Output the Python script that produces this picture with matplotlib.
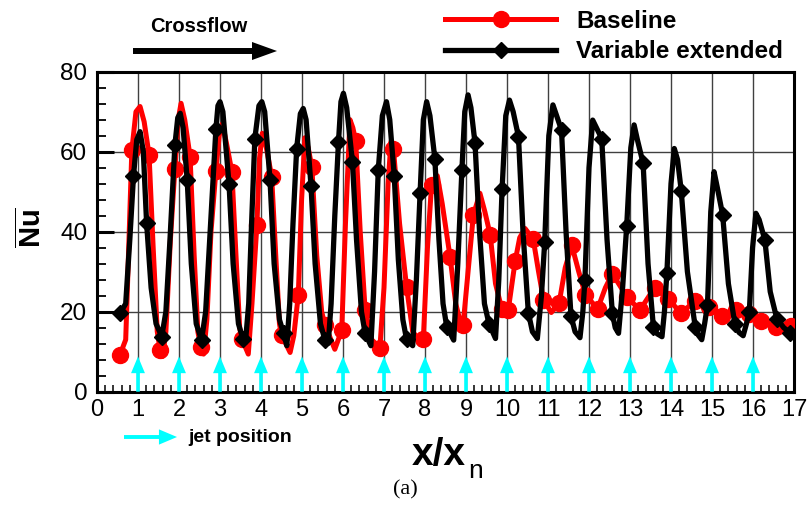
import matplotlib
matplotlib.use('Agg')
import matplotlib.pyplot as plt
from matplotlib import font_manager as fm
from matplotlib.patches import FancyArrowPatch
from matplotlib.lines import Line2D
from matplotlib.ticker import MultipleLocator

# Baseline (red) curve
base_x = [0.56, 0.70, 0.78, 0.85, 0.95, 1.05, 1.15, 1.27, 1.37, 1.47, 1.54, 1.60,
          1.68, 1.79, 1.90, 1.98, 2.05, 2.14, 2.27, 2.37, 2.46, 2.53, 2.60,
          2.68, 2.78, 2.90, 2.98, 3.06, 3.16, 3.29, 3.39, 3.48, 3.53, 3.69,
          3.78, 3.90, 3.96, 4.03, 4.13, 4.26, 4.36, 4.45, 4.50, 4.71,
          4.80, 4.91, 4.99, 5.07, 5.15, 5.24, 5.36, 5.48, 5.56, 5.80, 5.97,
          6.06, 6.17, 6.24, 6.31, 6.42, 6.54, 6.70, 6.90,
          7.00, 7.10, 7.17, 7.23, 7.38, 7.55, 7.70, 7.88, 7.96,
          8.06, 8.16, 8.30, 8.42, 8.61, 8.75, 8.86, 8.93,
          9.05, 9.18, 9.34, 9.46, 9.59, 9.72, 9.87, 9.95, 10.03,
          10.20, 10.31, 10.44, 10.64, 10.77, 10.89, 11.08, 11.27,
          11.42, 11.58, 11.75, 11.91, 12.21,
          12.40, 12.57, 12.92, 13.24, 13.60, 13.92, 14.25, 14.59, 14.93, 15.24,
          15.59, 15.90, 16.20, 16.56, 16.93]
base_y = [9.2, 13, 38, 60.4, 70, 71.3, 67.5, 59.2, 36, 15, 10.5, 8.8,
          15, 38, 55.8, 68, 72.1, 68, 58.8, 34, 15, 11.2, 9.4,
          18, 40, 55.2, 64, 67, 62, 55, 34, 16, 13.3, 9.4,
          22, 41.7, 58, 64.6, 61, 53.8, 34, 17, 14.2, 9.8,
          14, 24.2, 48, 63.5, 61, 56.2, 34, 20, 16.7, 10.6, 15.4,
          42, 68, 66, 62.7, 40, 20.4, 13, 11.0,
          26, 52, 62.5, 60.8, 42, 26.2, 15, 12.6, 13.3,
          36, 51.7, 54, 47, 33.8, 22, 17.5, 16.7,
          30, 44.2, 49.6, 45, 39.2, 27, 20.8, 19.8, 20.4,
          32.7, 38.5, 40.8, 38.1, 30, 23, 19.8, 22.1,
          31, 36.6, 30, 24.3, 20.7,
          26, 29.5, 23.8, 20.4, 26.0, 23.3, 19.6, 22.8, 21.3, 18.9,
          20.4, 19.4, 17.7, 16.2, 16.5]
base_mx = [0.56, 0.85, 1.27, 1.54, 1.90, 2.27, 2.53, 2.90, 3.29, 3.53, 3.90, 4.26,
           4.50, 4.91, 5.24, 5.56, 5.97, 6.31, 6.54, 6.90, 7.23, 7.55, 7.96, 8.16,
           8.61, 8.93, 9.18, 9.59, 9.87, 10.03, 10.20, 10.64, 10.89, 11.27, 11.58,
           11.91, 12.21, 12.57, 12.92, 13.24, 13.60, 13.92, 14.25, 14.59, 14.93,
           15.24, 15.59, 15.90, 16.20, 16.56, 16.93]
base_my = [9.2, 60.4, 59.2, 10.5, 55.8, 58.8, 11.2, 55.2, 55.0, 13.3, 41.7, 53.8,
           14.2, 24.2, 56.2, 16.7, 15.4, 62.7, 20.4, 11.0, 60.8, 26.2, 13.3, 51.7,
           33.8, 16.7, 44.2, 39.2, 20.8, 20.4, 32.7, 38.1, 23.0, 22.1, 36.6,
           24.3, 20.7, 29.5, 23.8, 20.4, 26.0, 23.3, 19.6, 22.8, 21.3,
           18.9, 20.4, 19.4, 17.7, 16.2, 16.5]

# Variable extended (black) curve
var_x = [0.56, 0.70, 0.80, 0.89, 0.97, 1.05, 1.13, 1.21, 1.32, 1.44, 1.58,
         1.68, 1.78, 1.90, 1.97, 2.03, 2.10, 2.20, 2.30, 2.42, 2.55,
         2.65, 2.76, 2.90, 2.95, 3.00, 3.07, 3.22, 3.32, 3.45, 3.56, 3.62,
         3.70, 3.77, 3.85, 3.95, 4.02, 4.09, 4.22, 4.32, 4.45, 4.55, 4.63,
         4.70, 4.78, 4.87, 4.96, 5.03, 5.10, 5.22, 5.32, 5.45, 5.56, 5.64,
         5.71, 5.80, 5.89, 5.95, 6.01, 6.09, 6.23, 6.33, 6.45, 6.54, 6.68,
         6.77, 6.86, 6.96, 7.06, 7.14, 7.25, 7.35, 7.46, 7.55, 7.70,
         7.79, 7.88, 7.96, 8.04, 8.12, 8.24, 8.34, 8.44, 8.53, 8.70,
         8.80, 8.90, 8.97, 9.05, 9.12, 9.22, 9.33, 9.45, 9.56, 9.72,
         9.80, 9.88, 9.97, 10.06, 10.15, 10.28, 10.39, 10.52, 10.62, 10.74,
         10.84, 10.92, 11.02, 11.12, 11.21, 11.33, 11.44, 11.56, 11.66, 11.78,
         11.85, 11.90, 12.00, 12.09, 12.18, 12.31, 12.44, 12.57, 12.64, 12.72,
         12.82, 12.92, 13.02, 13.10, 13.18, 13.32, 13.44, 13.57, 13.66, 13.78,
         13.84, 13.90, 14.00, 14.08, 14.16, 14.25, 14.40, 14.59, 14.66, 14.75,
         14.82, 14.89, 14.97, 15.05, 15.13, 15.26, 15.40, 15.56, 15.66, 15.76,
         15.84, 15.91, 15.99, 16.07, 16.15, 16.29, 16.42, 16.58, 16.75, 16.90]
var_y = [19.6, 22.0, 38, 53.9, 63, 65, 60, 42.1, 26, 17, 13.8,
         20, 38, 61.7, 68.5, 69.6, 66, 52.9, 32, 17, 12.9,
         20, 40, 65.6, 71.5, 72.5, 70, 52.0, 32, 17, 13.1, 12.3,
         22, 42, 63.3, 71.5, 72.5, 70, 52.9, 32, 18, 14.6, 11.5,
         22, 42, 60.8, 69.5, 70.8, 68, 51.4, 32, 17, 12.9, 12.1,
         22, 44, 62.5, 72.5, 74.6, 71, 57.5, 38, 20, 14.6, 11.5,
         30, 55.4, 69, 72.5, 68, 53.9, 33, 18, 13.1, 11.5,
         28, 49.6, 68, 72.5, 69, 58.3, 38, 22, 16.25, 12.9,
         32, 55.4, 70, 74.2, 71, 62.1, 40, 22, 17.0, 13.3,
         28, 50.6, 69, 72.9, 70, 63.75, 40, 19.8, 15, 13.3,
         24, 37.5, 64, 71.7, 69, 65.4, 40, 19.0, 15, 13.5,
         20, 27.9, 56, 67.9, 66, 63.3, 38, 19.6, 16, 14.6,
         26, 41.5, 61, 66.7, 63, 57.1, 32, 16.25, 14.5, 13.75,
         20, 29.8, 52, 60.8, 58, 50.2, 30, 16.25, 14.2, 13.0,
         17, 21.7, 45, 55, 51, 44.2, 27, 16.9, 14.8, 14.0,
         17, 20.0, 36, 44.6, 43, 37.9, 25, 18.3, 16, 14.8]
var_mx = [0.56, 0.89, 1.21, 1.58, 1.90, 2.20, 2.55, 2.90, 3.22, 3.56, 3.85, 4.22,
          4.55, 4.87, 5.22, 5.56, 5.89, 6.23, 6.54, 6.86, 7.25, 7.55, 7.88, 8.24,
          8.53, 8.90, 9.22, 9.56, 9.88, 10.28, 10.52, 10.92, 11.33, 11.56, 11.90,
          12.31, 12.57, 12.92, 13.32, 13.57, 13.90, 14.25, 14.59, 14.89, 15.26,
          15.56, 15.91, 16.29, 16.58, 16.90]
var_my = [19.6, 53.9, 42.1, 13.8, 61.7, 52.9, 12.9, 65.6, 52.0, 13.1, 63.3, 52.9,
          14.6, 60.8, 51.4, 12.9, 62.5, 57.5, 14.6, 55.4, 53.9, 13.1, 49.6, 58.3,
          16.25, 55.4, 62.1, 17.0, 50.6, 63.75, 19.8, 37.5, 65.4, 19.0, 27.9,
          63.3, 19.6, 41.5, 57.1, 16.25, 29.8, 50.2, 16.25, 21.7, 44.2,
          16.9, 20.0, 37.9, 18.3, 14.8]

jet_x = list(range(1, 17))
x_ticks = list(range(0, 18))
y_ticks = [0, 20, 40, 60, 80]

names = {f.name for f in fm.fontManager.ttflist}
sans = 'Liberation Sans'
narrow = 'Liberation Sans Narrow' if 'Liberation Sans Narrow' in names else sans

plt.rcParams['font.family'] = [sans, 'DejaVu Sans']
plt.rcParams['mathtext.fontset'] = 'custom'
plt.rcParams['mathtext.rm'] = sans
plt.rcParams['mathtext.bf'] = sans + ':bold'

W, H = 808, 509
fig = plt.figure(figsize=(W / 100, H / 100), dpi=100)
ax = fig.add_axes([97 / W, 1 - 391.7 / H, 697 / W, 320 / H])

ax.plot(base_x, base_y, color='red', lw=3.6, solid_joinstyle='round', zorder=3)
ax.plot(base_mx, base_my, 'o', color='red', ms=11.5, zorder=4)
ax.plot(var_x, var_y, color='black', lw=3.8, solid_joinstyle='round', zorder=5)
ax.plot(var_mx, var_my, 'D', color='black', ms=8.3, zorder=6)

for xj in jet_x:
    ax.add_patch(FancyArrowPatch((xj, 0), (xj, 8.8),
                                 arrowstyle='simple,head_length=12,head_width=10,tail_width=2.6',
                                 mutation_scale=1, color='#00FFFF', lw=0,
                                 shrinkA=0, shrinkB=0, zorder=7))

ax.set_xlim(0, 17)
ax.set_ylim(0, 80)
ax.set_xticks(x_ticks)
ax.set_yticks(y_ticks)
ax.xaxis.set_minor_locator(MultipleLocator(0.2))
ax.yaxis.set_minor_locator(MultipleLocator(4))
ax.set_axisbelow(True)
ax.grid(True, which='major', color='#404040', lw=1.0)
ax.tick_params(which='both', direction='in', top=False, right=False)
ax.tick_params(axis='y', which='major', length=12, width=2.2, labelsize=17.5, pad=7)
ax.tick_params(axis='y', which='minor', length=6.5, width=1.3)
ax.tick_params(axis='x', which='major', length=10, width=1.3, labelsize=17, pad=5)
ax.tick_params(axis='x', which='minor', length=5, width=1.1)
for lbl in ax.get_xticklabels():
    lbl.set_family(narrow)
for s in ax.spines.values():
    s.set_linewidth(2.2)

# legend
handles = [Line2D([0], [0], color='red', lw=3.6, marker='o', ms=11.5),
           Line2D([0], [0], color='black', lw=3.8, marker='D', ms=8.3)]
fig.legend(handles, ['Baseline', 'Variable extended'], loc='upper left',
           bbox_to_anchor=(445 / W, 1 - 10 / H), frameon=False,
           prop={'family': sans, 'weight': 'bold', 'size': 17.5},
           handlelength=4.57, handletextpad=0.82, labelspacing=0.3,
           borderpad=0, borderaxespad=0)

# crossflow arrow
fig.text(150 / W, 1 - 26 / H, 'Crossflow', ha='left', va='center',
         fontsize=14.5, fontweight='bold')
fig.add_artist(FancyArrowPatch((133 / W, 1 - 51 / H), (277 / W, 1 - 51 / H),
                               transform=fig.transFigure,
                               arrowstyle='simple,head_length=18,head_width=13,tail_width=4.3',
                               mutation_scale=1, color='black', lw=0,
                               shrinkA=0, shrinkB=0))

# jet position key
fig.add_artist(FancyArrowPatch((124 / W, 1 - 437 / H), (177 / W, 1 - 437 / H),
                               transform=fig.transFigure,
                               arrowstyle='simple,head_length=13,head_width=11,tail_width=2.8',
                               mutation_scale=1, color='#00FFFF', lw=0,
                               shrinkA=0, shrinkB=0))
fig.text(188 / W, 1 - 437 / H, 'jet position', ha='left', va='center',
         fontsize=14, fontweight='bold')

# axis labels
fig.text(32 / W, 1 - 228 / H, r'$\overline{\mathbf{Nu}}$', rotation=90,
         ha='center', va='center', fontsize=21)
fig.text(412 / W, 44 / H, 'x/x', ha='left', va='baseline', fontsize=28,
         fontweight='bold', family=narrow)
fig.text(468 / W, 31 / H, 'n', ha='left', va='baseline', fontsize=19, family=narrow)

fig.text(405 / W, 1 - 490 / H, '(a)', ha='center', va='center', fontsize=16,
         family='Liberation Serif')

fig.savefig('out.png', dpi=100)
